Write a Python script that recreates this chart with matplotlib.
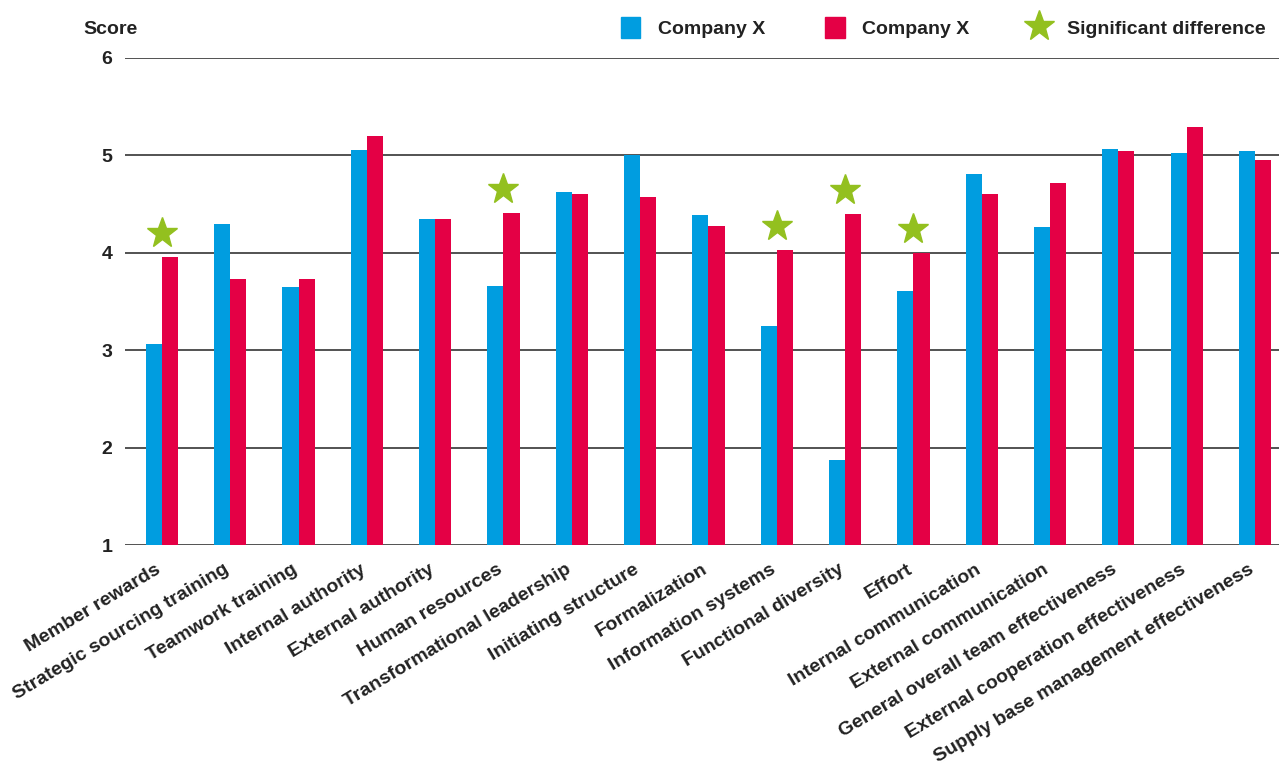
import numpy as np
import matplotlib
matplotlib.use('Agg')
import matplotlib.pyplot as plt
import matplotlib.transforms as mtransforms
from matplotlib.patches import Patch
from matplotlib.lines import Line2D

# data
categories = ['Member rewards', 'Strategic sourcing training', 'Teamwork training',
              'Internal authority', 'External authority', 'Human resources',
              'Transformational leadership', 'Initiating structure', 'Formalization',
              'Information systems', 'Functional diversity', 'Effort',
              'Internal communication', 'External communication',
              'General overall team effectiveness', 'External cooperation effectiveness',
              'Supply base management effectiveness']
company_a = [3.06, 4.30, 3.65, 5.06, 4.35, 3.66, 4.62, 5.00, 4.39,
             3.25, 1.87, 3.61, 4.81, 4.26, 5.07, 5.02, 5.05]
company_b = [3.96, 3.73, 3.73, 5.20, 4.35, 4.41, 4.60, 4.57, 4.27,
             4.03, 4.40, 4.00, 4.60, 4.72, 5.04, 5.29, 4.95]
significant = [0, 5, 9, 10, 11]

blue = '#009de0'
red = '#e40045'
green = '#93c01f'
dark = '#222222'

plt.rcParams['font.family'] = ['Liberation Sans', 'DejaVu Sans']
plt.rcParams['font.weight'] = 'bold'

fig = plt.figure(figsize=(12.79, 7.71), dpi=100)
ax = fig.add_axes([0.0977, 0.2931, 0.9023, 0.6317])

x = np.arange(len(categories))
w = 0.235
ax.bar(x - w / 2, np.array(company_a) - 1, w, bottom=1, color=blue, zorder=3)
ax.bar(x + w / 2, np.array(company_b) - 1, w, bottom=1, color=red, zorder=3)

star_y = [company_b[i] + 0.24 for i in significant]
ax.plot(x[significant], star_y, linestyle='none', marker='*', markersize=23,
        color=green, zorder=4)

ax.set_ylim(1, 6)
ax.set_xlim(-0.54, 16.35)
ax.set_yticks([1, 2, 3, 4, 5, 6])
ax.yaxis.grid(True, color='#444444', linewidth=1.3, zorder=0)
ax.tick_params(axis='y', length=0, pad=9, labelsize=14, labelcolor=dark)
ax.tick_params(axis='x', length=0, pad=5)
for s in ax.spines.values():
    s.set_visible(False)

ax.set_xticks(x)
ax.set_xticklabels(categories, rotation=31, ha='right', va='top',
                   rotation_mode='anchor', fontsize=14, color=dark)
shift = mtransforms.ScaledTranslation(-7 / 100, -9 / 100, fig.dpi_scale_trans)
for lab in ax.get_xticklabels():
    lab.set_transform(lab.get_transform() + shift)

fig.text(0.065, 0.962, 'Score', fontsize=14, color=dark, va='center', ha='left')

handles = [Patch(color=blue), Patch(color=red),
           Line2D([], [], linestyle='none', marker='*', markersize=23, color=green)]
fig.legend(handles, ['Company X', 'Company X', 'Significant difference'],
           loc='center right', bbox_to_anchor=(1.003, 0.964), ncol=3, frameon=False,
           fontsize=14, handlelength=1.0, handleheight=1.3, handletextpad=0.9,
           columnspacing=3.1, labelcolor=dark)

fig.savefig('out.png', dpi=100)
